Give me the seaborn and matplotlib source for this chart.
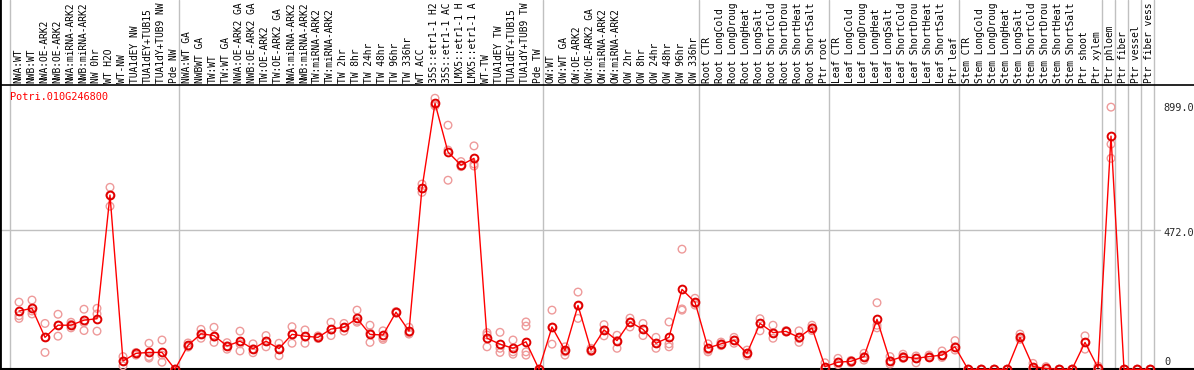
import numpy as np
import pandas as pd
import matplotlib
matplotlib.use("Agg")
import matplotlib.pyplot as plt
import seaborn as sns

# sample names as printed on top of the chart (cut to 14 characters there)
samples = [
    "NWA:WT", "NWB:WT", "NWA:OE-ARK2", "NWB:OE-ARK2", "NWA:miRNA-ARK2",
    "NWB:miRNA-ARK2", "NW 0hr", "WT H2O", "WT-NW", "TUA1dEY NW",
    "TUA1dEY+TUB15", "TUA1dY+TUB9 NW", "Pde NW",
    "NWA:WT GA", "NWBWT GA", "TW:WT", "TW:WT GA", "NWA:OE-ARK2 GA",
    "NWB:OE-ARK2 GA", "TW:OE-ARK2", "TW:OE-ARK2 GA", "NWA:miRNA-ARK2",
    "NWB:miRNA-ARK2", "TW:miRNA-ARK2", "TW:miRNA-ARK2", "TW 2hr", "TW 8hr",
    "TW 24hr", "TW 48hr", "TW 96hr", "TW 336hr", "WT ACC",
    "35S::etr1-1 H2", "35S::etr1-1 AC", "LMX5::etr1-1 H",
    "LMX5::etr1-1 A", "WT-TW", "TUA1dEY TW", "TUA1dEY+TUB15",
    "TUA1dY+TUB9 TW", "Pde TW",
    "OW:WT", "OW:WT GA", "OW:OE-ARK2", "OW:OE-ARK2 GA", "OW:miRNA-ARK2",
    "OW:miRNA-ARK2", "OW 2hr", "OW 8hr", "OW 24hr", "OW 48hr", "OW 96hr",
    "OW 336hr",
    "Root CTR", "Root LongCold", "Root LongDroug", "Root LongHeat",
    "Root LongSalt", "Root ShortCold", "Root ShortDrou", "Root ShortHeat",
    "Root ShortSalt", "Ptr root",
    "Leaf CTR", "Leaf LongCold", "Leaf LongDroug", "Leaf LongHeat",
    "Leaf LongSalt", "Leaf ShortCold", "Leaf ShortDrou", "Leaf ShortHeat",
    "Leaf ShortSalt", "Ptr leaf",
    "Stem CTR", "Stem LongCold", "Stem LongDroug", "Stem LongHeat",
    "Stem LongSalt", "Stem ShortCold", "Stem ShortDrou", "Stem ShortHeat",
    "Stem ShortSalt", "Ptr shoot", "Ptr xylem",
    "Ptr phloem", "Ptr fiber", "Ptr vessel", "Ptr fiber vess",
]

# mean expression per sample
means = [
    197, 206, 108, 149, 149, 166, 171, 589, 28, 54, 57, 57, 0,
    81, 120, 114, 79, 95, 69, 95, 70, 118, 112, 108, 136, 142, 172, 118, 116,
    193, 129, 612, 899, 734, 690, 713, 105, 85, 71, 93, 0,
    143, 64, 216, 65, 133, 97, 160, 135, 88, 108, 270, 227,
    72, 86, 98, 54, 155, 124, 128, 108, 140, 9,
    24, 27, 43, 169, 29, 43, 37, 43, 48, 76,
    0, 0, 0, 0, 108, 9, 3, 0, 0, 91, 5,
    788, 0, 0, 0,
]

# single replicates per sample
reps = [
    [227, 181, 172], [234, 197, 187], [155, 108, 57], [186, 149, 112],
    [159, 152, 140], [203, 158, 131], [206, 187, 129], [615, 551, 589],
    [43, 12, 28], [57, 48, 55], [88, 43, 38], [99, 48, 24], [0, 0, 0],
    [89, 79, 75], [135, 120, 105], [142, 109, 91], [90, 79, 68],
    [129, 86, 62], [86, 69, 56], [114, 95, 76], [88, 70, 46],
    [144, 118, 88], [133, 109, 88], [113, 106, 104], [159, 133, 114],
    [155, 140, 129], [200, 163, 159], [149, 123, 91], [130, 106, 101],
    [195, 190, 194], [142, 123, 119], [626, 598, 611], [916, 890, 893],
    [825, 741, 639], [702, 690, 685], [755, 694, 687], [124, 116, 76],
    [125, 71, 57], [99, 59, 51], [160, 146, 59, 48], [0, 0, 0],
    [200, 142, 85], [76, 48, 59], [261, 172, 214], [71, 60, 64],
    [151, 133, 113], [115, 97, 71], [173, 160, 143], [155, 135, 114],
    [108, 88, 71], [160, 86, 76], [406, 204, 200], [240, 223, 217],
    [86, 65, 59], [80, 86, 92], [108, 98, 88], [65, 46, 54],
    [171, 155, 130], [149, 105, 124], [131, 126, 128], [130, 91, 104],
    [149, 140, 131], [22, 3, 0],
    [37, 24, 16], [30, 22, 27], [54, 31, 43], [225, 149, 140],
    [43, 18, 29], [51, 37, 43], [45, 22, 37], [48, 40, 43], [62, 46, 40],
    [97, 65, 76],
    [0, 0, 0], [0, 0, 0], [0, 0, 0], [0, 0, 0], [119, 108, 101],
    [20, 4, 0], [9, 0, 0], [0, 0, 0], [0, 0, 0], [113, 68, 91],
    [11, 0, 4],
    [886, 761, 713], [0, 0, 0], [0, 0, 0], [0, 0, 0],
]

# sample counts at which a grey divider is drawn
group_edges = [0, 13, 41, 53, 63, 73, 84, 85, 86, 87, 88]
gene = "Potri.010G246800"
mid_value = 472
max_value = 899

df_mean = pd.DataFrame({"idx": np.arange(len(samples)), "expr": means})
df_rep = pd.DataFrame(
    [(i, v) for i, r in enumerate(reps) for v in r], columns=["idx", "expr"]
)

sns.set_style("white")
plt.rcParams["font.family"] = ["DejaVu Sans Mono"]

fig = plt.figure(figsize=(11.94, 3.70), dpi=100)
ax = fig.add_axes([0, 0, 1, 1])

# pixel mapping: sample i at x = 19 + 13*i, value 0 at y = 369.3, 0.2959 px per unit
px = 1 / 0.2959
ax.set_xlim(-19 / 13, (1194 - 19) / 13)
ax.set_ylim(-0.7 * px, 369.3 * px)

grey = "#c0c0c0"
for k in group_edges:
    ax.axvline(k - 0.654, color=grey, lw=1.0, zorder=1)
ax.plot([-19 / 13, 87.8], [mid_value, mid_value], color=grey, lw=1.0, zorder=1)

# frame lines
ax.axhline((369.3 - 85) * px, color="black", lw=1.2, zorder=2)
ax.axhline(0, color="black", lw=1.5, zorder=2)
for s in ["top", "right", "bottom"]:
    ax.spines[s].set_visible(False)
ax.spines["left"].set_color("black")
ax.spines["left"].set_linewidth(2)

sns.scatterplot(data=df_rep, x="idx", y="expr", ax=ax, marker="o",
                facecolors="none", edgecolor="#ee9a9a", linewidth=1.0,
                s=30, zorder=3, legend=False)
sns.lineplot(data=df_mean, x="idx", y="expr", ax=ax, color="red", lw=1.0,
             marker="o", markersize=5.6, markerfacecolor="none",
             markeredgecolor="#e00000", markeredgewidth=1.4, zorder=4)

ax.set_xticks([])
ax.set_yticks([])
ax.set_xlabel("")
ax.set_ylabel("")

# sample labels standing up from the frame line
for i, name in enumerate(samples):
    ax.text(i - 0.08, (369.3 - 83) * px, name, rotation=90, ha="center",
            va="bottom", fontsize=6.9, color="black")

ax.text(-0.69, (369.3 - 92.5) * px, gene, color="red", fontsize=7.4,
        ha="left", va="top")

lx = 88.0
ax.text(lx, max_value, f"{max_value:.1f}", fontsize=7.4, ha="left", va="top")
ax.text(lx, mid_value + 5, f"{mid_value:.1f}", fontsize=7.4, ha="left", va="top")
ax.text(lx + 0.1, 7.6 * px, "0", fontsize=7.4, ha="left", va="center")

fig.savefig("out.png", dpi=100)
